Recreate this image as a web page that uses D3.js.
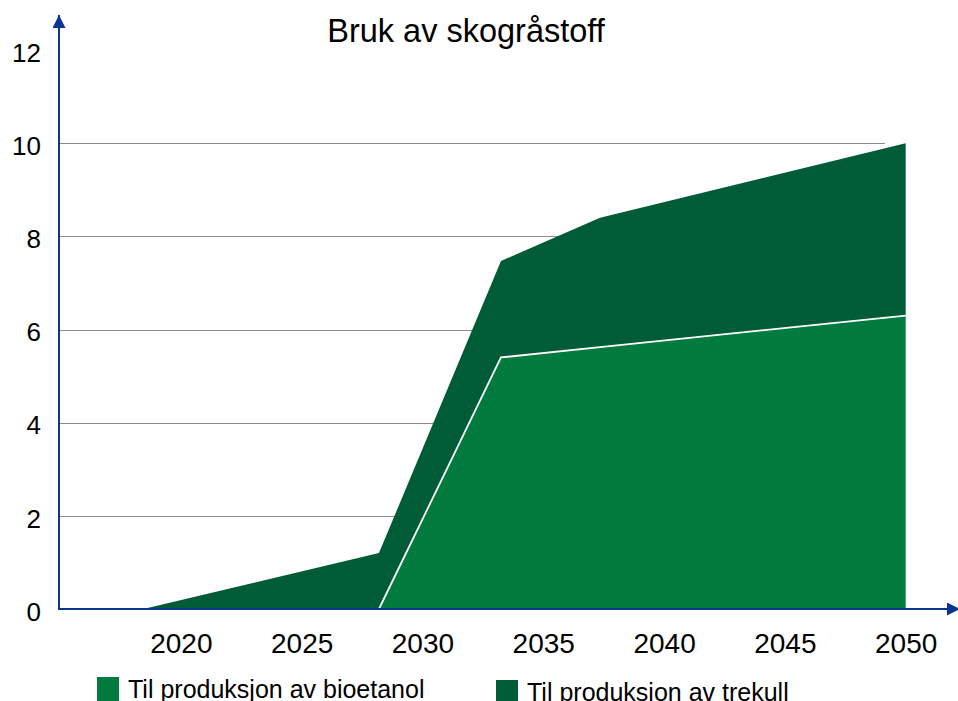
<!DOCTYPE html>
<html>
<head>
<meta charset="utf-8">
<script src="https://cdn.jsdelivr.net/npm/d3@7"></script>
<style>
  html, body { margin: 0; padding: 0; background: #fff; }
  svg { display: block; font-family: Arial, "Liberation Sans", sans-serif; }
</style>
</head>
<body>
<svg id="chart" width="958" height="701"></svg>
<script>
// Chart data: use of forest raw material (stacked areas)
const title = "Bruk av skogråstoff";
const years = [2018.45, 2028.2, 2033.25, 2037.35, 2050];
const bioetanol = [0, 0, 5.4, 5.62, 6.3];
const trekull = [0, 1.2, 2.07, 2.78, 3.7];
const seriesNames = ["Til produksjon av bioetanol", "Til produksjon av trekull"];
const seriesColors = ["#007a3d", "#005c36"];
const xTicks = [2020, 2025, 2030, 2035, 2040, 2045, 2050];
const yTicks = [0, 2, 4, 6, 8, 10, 12];
const gridValues = [2, 4, 6, 8, 10];

const svg = d3.select("#chart");
const axisColor = "#0a3591";

const x = d3.scaleLinear().domain([2015, 2052]).range([60, 954]);
const y = d3.scaleLinear().domain([0, 12]).range([609, 50]);
const gridRight = 885;

const rows = years.map((yr, i) => ({ year: yr, bio: bioetanol[i], trekull: trekull[i] }));
const stacked = d3.stack().keys(["bio", "trekull"])(rows);

// gridlines behind the areas
svg.append("g").selectAll("line").data(gridValues).join("line")
  .attr("x1", x.range()[0]).attr("x2", gridRight)
  .attr("y1", d => Math.round(y(d)) + 0.5).attr("y2", d => Math.round(y(d)) + 0.5)
  .attr("stroke", "#8c8c8c").attr("stroke-width", 1);

const area = d3.area()
  .x(d => x(d.data.year))
  .y0(d => y(d[0]))
  .y1(d => y(d[1]));

// stacked areas, top layer first so the lower one sits above it
svg.append("g").selectAll("path").data(stacked.slice().reverse()).join("path")
  .attr("d", area)
  .attr("fill", d => seriesColors[d.index]);

// white outline along the upper edge of the bioetanol area
const bioTop = d3.line()
  .x(d => x(d.data.year))
  .y(d => y(d[1]));
svg.append("path")
  .attr("d", bioTop(stacked[0].slice(1)))
  .attr("fill", "none")
  .attr("stroke", "#ffffff")
  .attr("stroke-width", 1.8);

// axis arrows
const defs = svg.append("defs");
defs.append("marker")
  .attr("id", "arrow")
  .attr("viewBox", "0 0 10 10")
  .attr("refX", 10).attr("refY", 5)
  .attr("markerWidth", 6.5).attr("markerHeight", 6.5)
  .attr("markerUnits", "strokeWidth")
  .attr("orient", "auto")
  .append("path").attr("d", "M0,0 L10,5 L0,10 Z").attr("fill", axisColor);

svg.append("line")
  .attr("x1", x.range()[0] - 1).attr("y1", y(0))
  .attr("x2", x.range()[0] - 1).attr("y2", 15)
  .attr("stroke", axisColor).attr("stroke-width", 2)
  .attr("marker-end", "url(#arrow)");

svg.append("line")
  .attr("x1", x.range()[0] - 2).attr("y1", y(0))
  .attr("x2", 960).attr("y2", y(0))
  .attr("stroke", axisColor).attr("stroke-width", 2)
  .attr("marker-end", "url(#arrow)");

// y axis labels
const yAxis = d3.axisLeft(y).tickValues(yTicks).tickSize(0).tickPadding(0).tickFormat(d3.format("d"));
const gy = svg.append("g").attr("transform", "translate(41,3)").call(yAxis);
gy.select(".domain").remove();
gy.selectAll("text").attr("font-size", 26).attr("fill", "#000")
  .attr("font-family", "Arial, 'Liberation Sans', sans-serif");

// x axis labels
const xAxis = d3.axisBottom(x).tickValues(xTicks).tickSize(0).tickPadding(0).tickFormat(d3.format("d"));
const gx = svg.append("g").attr("transform", "translate(0,632)").call(xAxis);
gx.select(".domain").remove();
gx.selectAll("text").attr("font-size", 28).attr("fill", "#000").attr("dy", "0")
  .attr("y", 21)
  .attr("font-family", "Arial, 'Liberation Sans', sans-serif");

// title
svg.append("text")
  .attr("x", 466).attr("y", 42)
  .attr("text-anchor", "middle")
  .attr("font-size", 32.5)
  .attr("fill", "#000")
  .text(title);

// legend
const legendX = [97, 496];
const legend = svg.append("g").selectAll("g").data(seriesNames).join("g")
  .attr("transform", (d, i) => `translate(${legendX[i]},${i === 0 ? 677 : 680})`);
legend.append("rect")
  .attr("width", 22).attr("height", 26)
  .attr("fill", (d, i) => seriesColors[i]);
legend.append("text")
  .attr("x", 31).attr("y", 21)
  .attr("font-size", 25)
  .attr("fill", "#000")
  .text(d => d);
</script>
</body>
</html>
